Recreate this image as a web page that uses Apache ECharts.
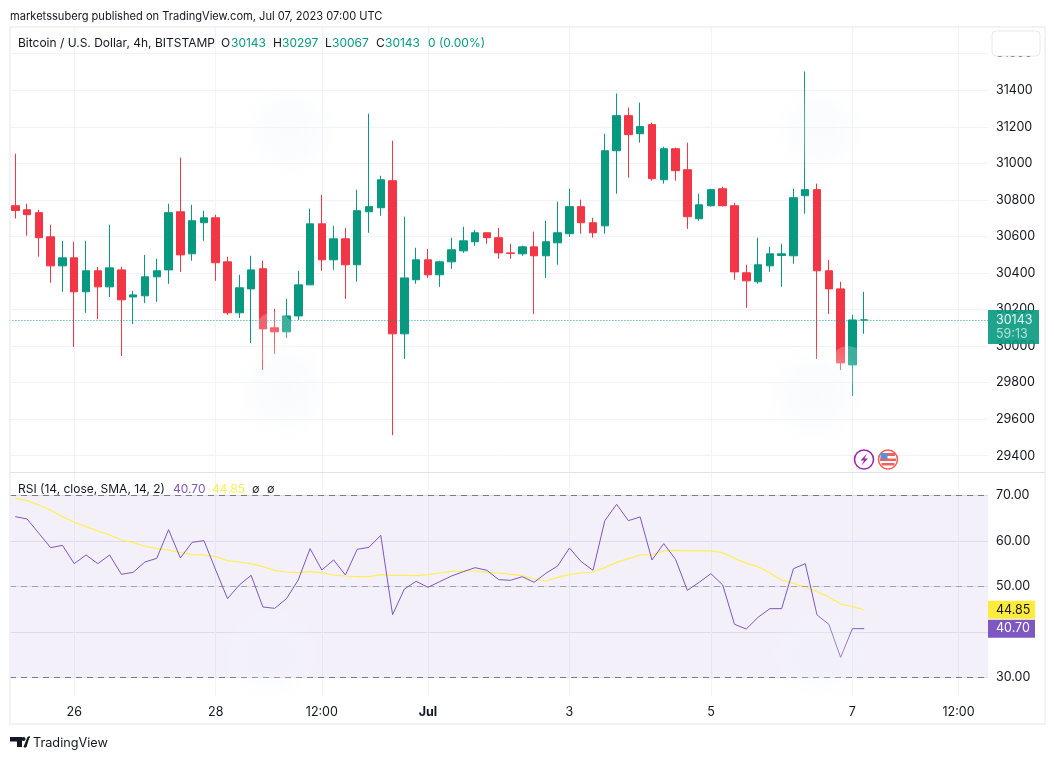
<!DOCTYPE html>
<html>
<head>
<meta charset="utf-8">
<style>html,body{margin:0;padding:0;background:#fff}#c{width:1054px;height:759px}</style>
<script src="https://cdn.jsdelivr.net/npm/echarts@6/dist/echarts.min.js"></script>
</head>
<body>
<div id="c"></div>
<script>
const opens = [30768,30746,30730,30598,30439,30483,30297,30412,30324,30417,30269,30275,30379,30417,30735,30505,30675,30702,30461,30182,30313,30423,30100,30078,30165,30335,30669,30472,30587,30445,30735,30757,30905,30067,30363,30472,30390,30461,30521,30571,30620,30593,30510,30505,30543,30494,30565,30615,30763,30675,30658,31069,31261,31162,31212,30910,31080,30965,30697,30768,30861,30768,30401,30352,30439,30496,30494,30823,30856,30412,30313,29897,30143];
const closes = [30742,30719,30593,30439,30483,30297,30412,30324,30428,30253,30280,30379,30412,30730,30499,30686,30702,30456,30182,30319,30417,30094,30078,30165,30335,30669,30472,30587,30445,30741,30763,30910,30067,30373,30472,30390,30461,30527,30576,30620,30593,30510,30507,30543,30494,30571,30620,30763,30675,30620,31069,31261,31157,31201,30916,31080,30960,30708,30773,30856,30768,30406,30357,30445,30505,30505,30812,30856,30412,30313,29908,30143,30143];
const lows = [30698,30604,30489,30346,30297,29995,30182,30147,30269,29946,30121,30236,30242,30341,30406,30467,30576,30357,30171,30154,30017,29869,29957,30045,30143,30335,30412,30417,30258,30352,30620,30713,29513,29930,30341,30373,30324,30423,30510,30549,30560,30478,30478,30494,30176,30373,30445,30598,30615,30593,30615,30834,30921,31113,30905,30889,30905,30642,30686,30763,30763,30363,30209,30341,30406,30324,30450,30724,29930,30176,29869,29727,30067];
const highs = [31053,30779,30746,30664,30576,30571,30576,30434,30664,30434,30302,30499,30478,30779,31031,30773,30741,30719,30489,30390,30494,30467,30204,30258,30412,30752,30828,30658,30647,30856,31272,30932,31124,30708,30538,30532,30467,30593,30653,30636,30620,30647,30560,30549,30626,30686,30790,30861,30801,30702,31162,31382,31305,31332,31223,31091,31086,31113,30834,30861,30872,30784,30445,30593,30543,30560,30861,31502,30889,30472,30352,30171,30297];
const rsi = [65.31,64.80,61.65,58.50,59.01,54.98,56.89,54.98,56.89,52.64,53.08,55.35,56.15,62.45,56.23,59.67,60.04,53.59,47.29,50.29,52.42,45.46,45.16,47.29,51.39,58.28,53.59,55.79,52.49,58.13,58.57,61.21,43.77,49.41,51.10,49.78,51.03,52.27,53.22,54.10,53.52,51.47,51.32,52.12,50.88,52.86,54.47,58.42,55.42,53.52,64.43,68.02,64.43,65.24,55.79,59.38,55.93,49.12,50.88,52.78,50.29,41.65,40.62,43.19,45.09,45.09,53.88,54.98,43.70,41.65,34.40,40.70,40.70];
const rsiSma = [69.34,68.83,67.88,66.78,65.31,64.07,63.11,62.16,61.28,60.18,59.60,58.86,58.28,57.99,57.40,56.96,56.89,56.52,55.64,55.35,54.98,54.32,53.52,53.15,53.00,53.22,53.00,52.49,52.27,52.12,52.12,52.56,52.42,52.42,52.34,52.56,52.93,53.30,53.37,53.37,53.08,52.93,52.64,52.34,51.61,51.17,51.98,52.56,52.93,53.15,54.10,55.27,56.08,56.89,56.96,57.77,57.91,57.77,57.77,57.77,57.40,56.15,55.05,54.32,52.93,51.39,50.66,49.85,48.83,47.66,46.12,45.53,44.85];
const dateLabels = {5:'26',17:'28',26:'12:00',35:'Jul',47:'3',59:'5',71:'7',80:'12:00'};
const categories = Array.from({length:83},(_,i)=>dateLabels[i]||'');
const priceTicks = [29400,29600,29800,30000,30200,30400,30600,30800,31000,31200,31400,31600];
const rsiTicks = [30,40,50,60,70];
const lastPrice = 30143, countdown = '59:13', lastRsi = 40.70, lastSma = 44.85;

const UP='#089981', DOWN='#F23645', GRID='#F0F3FA', TXT='#131722', PUR='#7E57C2', YEL='#FFEE58';
const FONT='Inter, "Liberation Sans", sans-serif';
const showTick = (i)=>!!dateLabels[i];

function blob(cx,cy,rx,ry,a){
  return {type:'ellipse',silent:true,z:50,shape:{cx,cy,rx,ry},style:{fill:{type:'radial',x:.5,y:.5,r:.5,colorStops:[{offset:0,color:`rgba(240,243,250,${a})`},{offset:.55,color:`rgba(242,245,251,${a*.7})`},{offset:1,color:'rgba(248,249,253,0)'}]}}};
}
function txt(x,y,text,fill,size,extra){
  return Object.assign({type:'text',x,y,z:60,silent:true,style:{text,fill:fill||TXT,font:`${size||12}px ${FONT}`,verticalAlign:'middle'}},extra||{});
}
const tag = (value,color,bg)=>({yAxis:value,lineStyle:{color:'transparent',width:0},
  label:{show:true,position:'end',distance:0,formatter:()=>value.toFixed(2),color,backgroundColor:bg,fontSize:12.5,fontFamily:FONT,padding:[2.5,8,2.5,8],width:31,align:'left'}});

const chart = echarts.init(document.getElementById('c'),null,{renderer:'canvas'});
chart.setOption({
  animation:false,
  backgroundColor:'#fff',
  textStyle:{fontFamily:FONT},
  grid:[
    {left:9.4,right:66,top:27,height:445},
    {left:9.4,right:66,top:472.55,height:223}
  ],
  xAxis:[
    {type:'category',gridIndex:0,data:categories,boundaryGap:true,axisLine:{show:false},axisTick:{show:false},axisLabel:{show:false},
      splitLine:{show:true,alignWithLabel:true,interval:showTick,lineStyle:{color:GRID,width:1}}},
    {type:'category',gridIndex:1,data:categories,boundaryGap:true,axisLine:{show:false},axisTick:{show:false},
      axisLabel:{interval:showTick,color:TXT,fontSize:12.5,fontFamily:FONT,margin:10,
        formatter:(v)=>v==='Jul'?'{b|Jul}':v,rich:{b:{fontWeight:'bold',fontSize:12.5,fontFamily:FONT,color:TXT}}},
      splitLine:{show:true,alignWithLabel:true,interval:showTick,lineStyle:{color:GRID,width:1}}}
  ],
  yAxis:[
    {type:'value',gridIndex:0,position:'right',min:29311,max:31746,scale:true,axisLine:{show:false},
      axisTick:{show:false,customValues:priceTicks},
      axisLabel:{customValues:priceTicks,color:TXT,fontSize:12.5,fontFamily:FONT,margin:8,formatter:(v)=>String(v)},
      splitLine:{show:true,lineStyle:{color:GRID,width:1}}},
    {type:'value',gridIndex:1,position:'right',min:26,max:75,axisLine:{show:false},
      axisTick:{show:false,customValues:rsiTicks},
      axisLabel:{customValues:rsiTicks,color:TXT,fontSize:12.5,fontFamily:FONT,margin:8,formatter:(v)=>v.toFixed(2)},
      splitLine:{show:true,lineStyle:{color:'#E8E6F2',width:1}}}
  ],
  series:[
    {type:'candlestick',name:'BTCUSD',xAxisIndex:0,yAxisIndex:0,barWidth:8,z:3,
      data:opens.map((o,i)=>[o,closes[i],lows[i],highs[i]]),
      itemStyle:{color:UP,color0:DOWN,borderColor:UP,borderColor0:DOWN,borderWidth:1},
      markLine:{silent:true,symbol:'none',animation:false,precision:0,
        lineStyle:{color:UP,type:[1,2],width:1,opacity:.9},
        label:{show:true,position:'end',distance:0,offset:[0,7],formatter:()=>'{a|'+lastPrice+'}\n{b|'+countdown+'}',backgroundColor:UP,
          fontFamily:FONT,padding:[3,8,3,8],width:35,align:'left',
          rich:{a:{color:'#fff',fontSize:12.5,fontFamily:FONT,lineHeight:14},b:{color:'rgba(255,255,255,.72)',fontSize:12.5,fontFamily:FONT,lineHeight:14}}},
        data:[{yAxis:lastPrice}]}},
    {type:'line',name:'RSI',xAxisIndex:1,yAxisIndex:1,data:rsi,showSymbol:false,symbol:'none',z:4,
      lineStyle:{color:PUR,width:1},
      markArea:{silent:true,itemStyle:{color:'rgba(126,87,194,0.09)'},data:[[{yAxis:70,x:10},{yAxis:30,x:988}]]},
      markLine:{silent:true,symbol:'none',animation:false,
        lineStyle:{color:'#787B86',type:[6,5],width:1},label:{show:false},
        data:[{yAxis:70,x:10},{yAxis:30,x:10},{yAxis:50,x:10,lineStyle:{color:'#787B86',opacity:.6,type:[6,5],width:1}}].map(d=>[d,{yAxis:d.yAxis,x:988}]).concat([tag(lastSma,TXT,'#FFEB3B'),tag(lastRsi,'#fff',PUR)])}},
    {type:'line',name:'RSI-based MA',xAxisIndex:1,yAxisIndex:1,data:rsiSma,showSymbol:false,symbol:'none',z:3,
      lineStyle:{color:YEL,width:1.2}}
  ],
  graphic:[
    blob(290,130,50,65,.35), blob(820,130,48,70,.35),
    blob(285,390,52,60,.4), blob(815,395,52,60,.4),
    blob(270,655,75,50,.35), blob(820,655,55,50,.35),
    {type:'ellipse',z:50,silent:true,shape:{cx:274,cy:338,rx:22,ry:26},style:{fill:'rgba(255,255,255,.22)'}},
    {type:'ellipse',z:50,silent:true,shape:{cx:848,cy:365,rx:18,ry:19},style:{fill:'rgba(255,255,255,.22)'}},
    {type:'rect',z:40,silent:true,shape:{x:10,y:27,width:1035,height:697},style:{fill:'none',stroke:'#EDEFF3',lineWidth:1.5}},
    {type:'line',z:40,silent:true,shape:{x1:10,y1:472.5,x2:1045,y2:472.5},style:{stroke:'#E0E3EB',lineWidth:1}},
    {type:'rect',z:60,silent:true,shape:{x:992,y:31,width:48,height:25,r:4},style:{fill:'#fff',stroke:'#E8EAEF',lineWidth:1}},
    txt(10,16.5,'marketssuberg published on TradingView.com, Jul 07, 2023 07:00 UTC',TXT,11.1),
    txt(18,43.5,'Bitcoin / U.S. Dollar, 4h, BITSTAMP',TXT,12),
    txt(221,43.5,'O',TXT,12), txt(231,43.5,'30143',UP,12),
    txt(273,43.5,'H',TXT,12), txt(282,43.5,'30297',UP,12),
    txt(325,43.5,'L',TXT,12), txt(332,43.5,'30067',UP,12),
    txt(376,43.5,'C',TXT,12), txt(385,43.5,'30143',UP,12),
    txt(428,43.5,'0 (0.00%)',UP,12),
    txt(18,489.5,'RSI (14, close, SMA, 14, 2)',TXT,12),
    txt(173,489.5,'40.70',PUR,12), txt(212,489.5,'44.85',YEL,12),
    txt(252,489.5,'∅',TXT,11), txt(267,489.5,'∅',TXT,11),
    {type:'circle',z:60,silent:true,shape:{cx:864,cy:459.5,r:9.5},style:{fill:'#fff',stroke:'#9C27B0',lineWidth:1.6}},
    {type:'polygon',z:61,silent:true,shape:{points:[[867,453.5],[860.5,460.5],[864,460.5],[861.5,465.5],[868,458.5],[864.5,458.5]]},style:{fill:'#9C27B0'}},
    {type:'circle',z:60,silent:true,shape:{cx:888,cy:459.5,r:9.5},style:{fill:'#fff',stroke:'#F0615F',lineWidth:1.6}},
    {type:'rect',z:61,silent:true,shape:{x:881,y:453,width:14,height:3},style:{fill:'#F0615F'}},
    {type:'rect',z:61,silent:true,shape:{x:880,y:458.5,width:16,height:2.5},style:{fill:'#F0615F'}},
    {type:'rect',z:61,silent:true,shape:{x:881.5,y:463,width:13,height:2.5},style:{fill:'#F0615F'}},
    {type:'rect',z:62,silent:true,shape:{x:880.5,y:453,width:7,height:6},style:{fill:'#5B8FD6'}},
    {type:'polygon',z:60,silent:true,shape:{points:[[10,737],[22,737],[22,747],[17,747],[17,741.5],[10,741.5]]},style:{fill:TXT}},
    {type:'circle',z:60,silent:true,shape:{cx:23.5,cy:739,r:2.1},style:{fill:TXT}},
    {type:'polygon',z:60,silent:true,shape:{points:[[24,747],[28,737],[30,737],[30,737],[29,737],[26,747]]},style:{fill:TXT,stroke:TXT,lineWidth:1}},
    txt(33,743.5,'TradingView',TXT,12.7)
  ]
});
</script>
</body>
</html>
